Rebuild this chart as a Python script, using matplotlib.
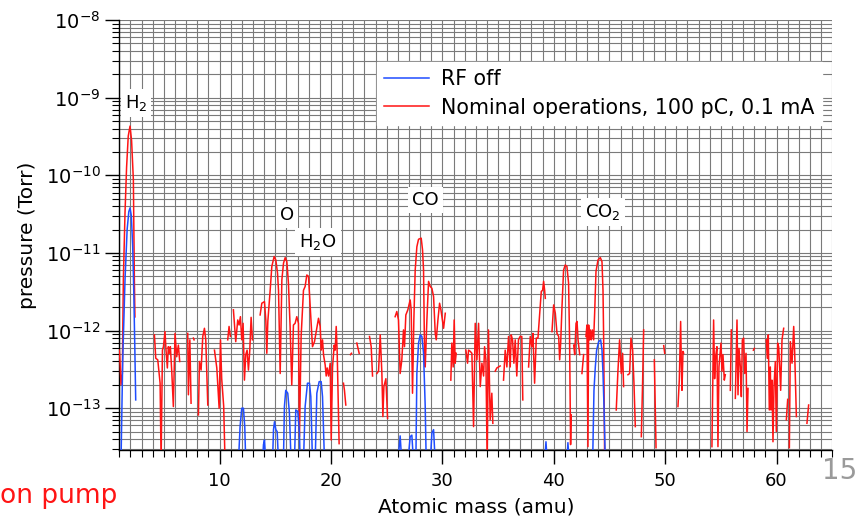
import numpy as np
import matplotlib
matplotlib.use('Agg')
import matplotlib.pyplot as plt
from matplotlib.ticker import MultipleLocator, LogLocator, NullFormatter

nan = np.nan
LOW = 2e-14  # below the axis floor, line gets clipped at the bottom

# Nominal operations (red): mass (amu) and pressure (Torr), nan = gap
red_mass = [
    1.0, 1.06, 1.15, 1.27, 1.36, 1.51, 1.65, 1.8, 1.96, 2.1, 2.26, 2.35, 2.4, nan,
    4.15, 4.27, 4.45, 4.66, 4.75, 4.87, 4.96, 5.10, 5.19, 5.31, 5.40, 5.49, 5.58, 5.70, 5.85,
    6.0, 6.15, 6.30, 6.42, nan,
    7.14, 7.2, 7.33, 7.44, nan, 7.65, 7.71, nan,
    8.1, 8.19, 8.34, 8.49, 8.64, 8.76, 8.94, nan,
    9.54, 9.75, 9.96, 10.08, 10.19, 10.37, 10.49, nan,
    10.73, 10.85, 10.97, nan,
    11.24, 11.33, 11.45, 11.63, 11.75, 11.87, 11.99, 12.11, 12.23, 12.35, 12.47, 12.59, 12.71,
    12.83, 12.95, nan,
    13.64, 13.79, 14.03, 14.15, 14.24, 14.33, 14.54, 14.69, 14.90, 15.05, 15.20, 15.29, 15.44,
    15.59, 15.74, 15.89, 16.04, 16.18, 16.33, 16.48, 16.63, 16.78, 16.93, 17.08, 17.17, 17.32,
    17.53, 17.68, 17.83, 17.98, 18.13, 18.34, 18.52, 18.73, 18.88, 19.03, 19.12, 19.24, 19.33,
    19.48, 19.57, 19.66, 19.78, 19.93, 20.02, 20.14, 20.29, 20.38, 20.47, 20.56, 20.73, nan,
    21.12, 21.21, 21.33, nan, 21.75, 21.84, nan, 22.32, 22.53, nan,
    23.46, 23.61, 23.73, nan,
    24.12, 24.27, 24.42, 24.57, 24.66, 24.75, 24.93, 25.08, nan,
    25.76, 25.91, 26.06, 26.21, 26.36, 26.51, 26.60, 26.72, 26.90, 27.11, 27.20, 27.32, 27.44,
    27.56, 27.71, 27.86, 28.10, 28.22, 28.31, 28.40, 28.46, 28.61, 28.76, 28.91, 29.06, 29.21,
    29.36, 29.45, 29.60, 29.75, 29.87, 29.96, 30.11, 30.26, nan,
    30.76, 30.85, 30.97, 31.06, 31.15, 31.24, nan,
    32.11, 32.26, 32.35, 32.50, 32.65, 32.80, 32.95, 33.10, 33.25, 33.40, 33.55, 33.70, 33.79,
    33.91, 34.02, 34.14, 34.29, 34.44, 34.53, nan,
    34.74, 34.89, 35.04, 35.19, nan,
    35.49, 35.64, 35.79, 35.94, 36.09, 36.18, 36.30, 36.42, 36.54, 36.68, 36.83, 36.98, 37.13,
    37.22, nan,
    37.74, 37.89, 38.04, 38.13, 38.28, 38.43, 38.58, 38.70, 38.88, 39.0, 39.09, 39.18, 39.24, nan,
    39.84, 39.99, 40.14, 40.29, 40.44, 40.53, 40.62, 40.74, 40.88, 41.03, 41.18, 41.33, 41.42,
    41.51, 41.57, nan,
    41.79, 41.88, 42.0, 42.09, 42.18, 42.33, nan, 42.53, 42.68, nan,
    42.89, 42.98, 43.07, 43.13, 43.22, 43.28, 43.37, 43.46, 43.58, 43.67, 43.79, 43.97, 44.18,
    44.33, 44.42, 44.48, 44.57, nan,
    45.61, 45.76, 45.91, 46.06, 46.18, 46.27, nan,
    46.66, 46.81, 46.93, 47.08, 47.20, 47.32, nan,
    47.86, 47.98, 48.07, nan, 49.03, 49.18, nan, 49.87, 49.96, nan,
    51.15, 51.27, 51.39, 51.45, 51.51, 51.60, 51.66, nan,
    54.20, 54.35, 54.44, 54.53, 54.65, 54.74, 54.83, 55.01, 55.10, 55.19, 55.31, 55.40, nan,
    55.85, 55.94, nan,
    56.30, 56.45, 56.54, 56.63, 56.75, 56.84, 56.93, 57.05, 57.14, 57.26, 57.35, 57.44, nan,
    57.92, 58.01, nan,
    59.08, 59.17, 59.26, 59.35, 59.44, 59.50, 59.59, 59.68, 59.77, 59.89, 59.98, 60.10, 60.19,
    60.28, 60.37, 60.49, 60.64, nan,
    60.88, 61.00, nan,
    61.15, 61.24, 61.39, 61.54, 61.63, 61.78, nan,
    62.73, 62.88,
]
red_p = [
    5.6e-13, 4.0e-13, 2.0e-13, 2.8e-13, 4.5e-12, 3.3e-11, 1.26e-10, 3.2e-10, 4.3e-10, 2.8e-10,
    8.7e-11, 4.5e-12, 1.5e-12, nan,
    8.8e-13, 4.4e-13, 4.2e-13, 2.1e-13, LOW, 5.6e-13, 6.2e-13, 9.7e-13, 5.6e-13, 3.3e-13, 6.2e-13,
    5.1e-13, 6.2e-13, 3.1e-13, 1.05e-13,
    9.2e-13, 4.6e-13, 6.5e-13, 4.0e-13, nan,
    9.2e-13, 1.49e-13, 7.6e-13, 1.16e-13, nan, 8.0e-13, 7.6e-13, nan,
    8.2e-14, 4.0e-13, 3.1e-13, 8.4e-13, 1.07e-12, 7.6e-13, 1.10e-13, nan,
    5.6e-13, 3.3e-13, 1.0e-13, 7.6e-13, 2.4e-13, 1.05e-13, LOW, nan,
    7.6e-13, 1.13e-12, 8.4e-13, nan,
    1.85e-12, 1.24e-12, 7.2e-13, 1.37e-12, 1.18e-12, 1.51e-12, 7.6e-13, 1.24e-12, 2.3e-13,
    4.9e-13, 5.6e-13, 3.1e-13, 5.6e-13, 1.48e-12, 7.6e-13, nan,
    1.59e-12, 2.25e-12, 2.36e-12, 1.37e-12, 5.1e-13, 1.31e-12, 3.3e-12, 6.7e-12, 9.0e-12, 8.1e-12,
    5.5e-12, 3.3e-12, 2.8e-13,
    4.5e-12, 7.4e-12, 8.7e-12, 7.7e-12, 4.1e-12, 1.13e-12, 2.0e-13, 1.18e-12, 1.24e-12, 1.51e-12,
    1.24e-12, 4.3e-14, 8.4e-13,
    3.3e-12, 3.7e-12, 5.2e-12, 5.0e-12, 2.14e-12, 6.2e-13, 7.2e-13, 1.07e-12, 1.44e-12, 1.13e-12,
    5.6e-13, 7.6e-13, 4.9e-13,
    3.6e-13, 2.6e-13, 3.3e-13, 2.6e-13, 3.8e-13, 3.9e-14, 3.4e-13, 6.5e-13, 5.6e-13, 1.13e-12,
    5.1e-13, 3.5e-14, nan,
    2.1e-13, 1.7e-13, 1.10e-13, nan, 4.9e-13, 5.1e-13, nan, 6.9e-13, 5.1e-13, nan,
    8.4e-13, 6.2e-13, 2.6e-13, nan,
    2.8e-13, 3.0e-13, 8.8e-13, 2.8e-13, 7.8e-14, 1.9e-13, 2.4e-13, 7.4e-14, nan,
    1.51e-12, 1.76e-12, 1.37e-12, 2.8e-13, 4.2e-13, 1.02e-12, 6.2e-13, 1.59e-12, 1.85e-12,
    2.48e-12, 1.85e-12, 1.56e-13, 1.37e-12,
    6.0e-12, 1.2e-11, 1.5e-11, 1.55e-11, 1.09e-11, 6.0e-12, 5.1e-13, 3.4e-13, 1.37e-12, 4.3e-12,
    3.7e-12, 3.5e-12, 2.74e-12,
    9.2e-13, 7.6e-13, 1.37e-12, 2.25e-12, 1.85e-12, 1.51e-12, 1.07e-12, 1.67e-12, nan,
    2.3e-13, 6.9e-13, 3.4e-13, 1.37e-12, 3.8e-13, 5.1e-13, nan,
    5.6e-13, 3.8e-13, 5.6e-13, 5.4e-13, 5.1e-13, 5.8e-14, 1.24e-12, 4.2e-13, 1.24e-12, 1.9e-13,
    3.8e-13, 2.6e-13, 6.2e-13,
    4.2e-13, LOW, 1.02e-12, 7.1e-14, 1.56e-13, 6.4e-14, nan,
    3.0e-13, 3.3e-13, 3.4e-13, 3.5e-13, nan,
    2.3e-13, 5.6e-13, 3.4e-13, 8.4e-13, 3.4e-13, 8.8e-13, 7.6e-13, 3.8e-13, 7.6e-13, 2.6e-13,
    7.6e-13, 8.4e-13, 8.4e-13,
    1.28e-13, nan,
    3.4e-13, 8.4e-13, 6.2e-13, 9.2e-13, 2.1e-13, 8.0e-13, 8.0e-13, 1.37e-12, 3.2e-12, 3.3e-12,
    4.3e-12, 3.3e-12, 2.6e-12, nan,
    9.7e-13, 2.14e-12, 1.67e-12, 9.2e-13, 8.4e-13, 4.2e-13, 6.9e-13, 2.04e-12, 6.0e-12, 7.0e-12,
    6.7e-12, 4.1e-12, 7.6e-13,
    3.4e-14, 8.2e-14, nan,
    6.5e-13, 4.9e-13, 1.24e-12, 1.31e-12, 7.6e-13, 4.9e-13, nan, 2.8e-13, 4.9e-13, nan,
    8.4e-13, 1.18e-12, 3.2e-14, 1.18e-12, 7.6e-13, 1.02e-12, 7.6e-13, 1.02e-12, 7.6e-13, 1.67e-12,
    5.75e-12, 8.1e-12, 8.7e-12,
    7.7e-12, 3.3e-12, 7.6e-13, LOW, nan,
    9.5e-14, 3.0e-13, 7.6e-13, 2.8e-13, 5.1e-13, 1.9e-13, nan,
    2.7e-13, 2.8e-13, 8.0e-13, 5.6e-13, 2.1e-13, 5.8e-14, nan,
    4.3e-14, 2.3e-13, 1.02e-12, nan, 4.2e-13, 3.1e-14, nan, 6.4e-13, 5.1e-13, nan,
    1.05e-13, 2.3e-13, 1.31e-12, 3.8e-13, 1.7e-13, 5.4e-13, 5.1e-13, nan,
    3.2e-14, 1.37e-12, 2.4e-13, 4.6e-13, 6.2e-13, 3.2e-14, 3.4e-13, 6.9e-13, 3.0e-13, 4.9e-13,
    2.3e-13, 2.7e-13, nan,
    1.7e-13, 1.02e-12, nan,
    1.34e-13, 1.37e-12, 1.49e-13, 5.9e-13, 3.4e-13, 1.41e-13, 7.6e-13, 8.0e-13, 2.8e-13, 5.1e-13,
    5.0e-14, 1.8e-13, nan,
    5.6e-13, 5.9e-13, nan,
    7.6e-13, 4.4e-13, 8.8e-13, 9.5e-14, 3.4e-13, 9.5e-14, 2.3e-13, 3.7e-14, 1.9e-13, 4.0e-13,
    5.0e-14, 6.9e-13, 6.2e-13,
    3.4e-13, 1.7e-13, 7.6e-13, 1.07e-12, nan,
    7.1e-14, 1.3e-13, nan,
    3.1e-14, 7.2e-13, 3.8e-13, 1.13e-12, 5.1e-13, 7.8e-14, nan,
    6.4e-14, 1.1e-13,
]

# RF off (blue)
blue_mass = [
    1.15, 1.3, 1.51, 1.7, 1.85, 1.96, 2.08, 2.2, 2.3, 2.4, 2.47, nan,
    11.69, 11.84, 11.99, 12.14, 12.26, 12.35, nan,
    13.85, 13.94, 14.03, 14.15, nan,
    14.75, 14.84, 14.93, 15.05, 15.17, 15.29, nan,
    15.73, 15.82, 15.94, 16.12, 16.27, 16.42, nan,
    16.72, 16.84, 17.02, 17.17, 17.23, nan,
    17.53, 17.68, 17.89, 18.07, 18.19, 18.34, nan,
    18.58, 18.73, 18.94, 19.12, 19.24, 19.42, nan,
    26.0, 26.21, 26.36, nan,
    26.90, 27.11, 27.26, 27.41, nan,
    27.62, 27.71, 27.86, 28.01, 28.16, 28.31, 28.46, 28.55, nan,
    28.91, 29.06, 29.21, 29.36, nan,
    39.18, 39.30, 39.42, nan,
    41.18, 41.27, 41.39, nan,
    43.49, 43.61, 43.73, 43.85, 44.03, 44.21, 44.33, 44.42, 44.51, 44.63,
]
blue_p = [
    LOW, 4.0e-13, 4.5e-12, 2.0e-11, 3.4e-11, 3.8e-11, 3.0e-11, 1.2e-11, 3.0e-12, 5.0e-13,
    1.28e-13, nan,
    LOW, 5.8e-14, 1.0e-13, 1.0e-13, 5.8e-14, LOW, nan,
    LOW, 3.4e-14, 3.9e-14, LOW, nan,
    LOW, 5.3e-14, 6.7e-14, 5.3e-14, 5.0e-14, LOW, nan,
    LOW, 1.05e-13, 1.7e-13, 1.56e-13, 8.6e-14, LOW, nan,
    LOW, 9.5e-14, 9.1e-14, 4.8e-14, LOW, nan,
    LOW, 1.05e-13, 2.1e-13, 2.1e-13, 1.41e-13, LOW, nan,
    LOW, 1.56e-13, 2.2e-13, 2.2e-13, 1.41e-13, LOW, nan,
    LOW, 4.4e-14, LOW, nan,
    LOW, 4.3e-14, 4.5e-14, LOW, nan,
    LOW, 2.8e-13, 6.9e-13, 8.8e-13, 8.4e-13, 5.1e-13, 1.05e-13, LOW, nan,
    LOW, 4.8e-14, 5.3e-14, LOW, nan,
    LOW, 3.7e-14, LOW, nan,
    LOW, 3.6e-14, LOW, nan,
    LOW, 1.7e-13, 3.4e-13, 5.6e-13, 7.2e-13, 7.6e-13, 5.6e-13, 2.8e-13, 1.05e-13, LOW,
]

# peak labels: text, mass, pressure
peak_labels = ['H$_2$', 'O', 'H$_2$O', 'CO', 'CO$_2$']
peak_x = [2.5, 16.05, 18.85, 28.45, 44.4]
peak_y = [8.5e-10, 3.1e-11, 1.38e-11, 4.8e-11, 3.4e-11]

plt.rcParams['font.family'] = ['DejaVu Sans']

fig = plt.figure(figsize=(8.61, 5.22), dpi=100)
ax = fig.add_axes([0.1386, 0.138, 0.828, 0.8237])

l_red, = ax.plot(red_mass, red_p, color='#ff1414', lw=1.1, zorder=3)
l_blue, = ax.plot(blue_mass, blue_p, color='#1f4dff', lw=1.1, zorder=4)

ax.set_yscale('log')
ax.set_xlim(1, 65)
ax.set_ylim(2.9e-14, 1e-8)

ax.xaxis.set_major_locator(MultipleLocator(10))
ax.xaxis.set_minor_locator(MultipleLocator(1))
ax.yaxis.set_major_locator(LogLocator(base=10, numticks=20))
ax.yaxis.set_minor_locator(LogLocator(base=10, subs=np.arange(2, 10), numticks=20))
ax.yaxis.set_minor_formatter(NullFormatter())

ax.grid(True, which='both', axis='both', color='#7a7a7a', lw=0.8)
ax.set_axisbelow(True)

for s in ['top', 'right']:
    ax.spines[s].set_visible(False)
ax.spines['left'].set_linewidth(1.0)
ax.spines['bottom'].set_linewidth(1.0)

ax.tick_params(axis='both', which='major', length=10, width=1, labelsize=14, direction='out')
ax.tick_params(axis='both', which='minor', length=5, width=0.8, direction='out')
ax.tick_params(axis='x', which='major', pad=6, labelsize=13)

ax.set_xlabel('Atomic mass (amu)', fontsize=14.5, labelpad=5)
ax.set_ylabel('pressure (Torr)', fontsize=14.5, labelpad=6)

for t, x, y in zip(peak_labels, peak_x, peak_y):
    ax.text(x, y, t, fontsize=13, ha='center', va='center', zorder=6,
            bbox=dict(facecolor='white', edgecolor='none', pad=3))

leg = ax.legend([l_blue, l_red], ['RF off', 'Nominal operations, 100 pC, 0.1 mA'],
                loc='upper right', bbox_to_anchor=(1.0, 0.926), fontsize=14.8,
                frameon=True, fancybox=False, framealpha=1, edgecolor='white',
                handlelength=2.2, handletextpad=0.6, borderpad=0.35, labelspacing=0.4)
leg.set_zorder(7)

fig.text(0.0, 0.036, 'on pump', color='#ff1414', fontsize=19, ha='left', va='baseline')
fig.text(0.955, 0.07, '15', color='#9a9a9a', fontsize=20, ha='left', va='bottom')

fig.savefig('out.png', dpi=100)
